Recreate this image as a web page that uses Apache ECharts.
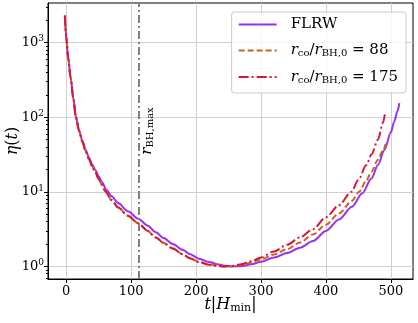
<!DOCTYPE html>
<html><head><meta charset="utf-8">
<script src="https://cdn.jsdelivr.net/npm/echarts@6/dist/echarts.min.js"></script>
<style>html,body{margin:0;padding:0;background:#fff}#c{width:418px;height:323px}</style>
</head><body><div id="c"></div>
<script>
// ---- data ----
const tFLRW   = [-2, 0, 3, 7, 11, 15, 20, 25, 30, 35, 40, 45, 50, 55, 62, 70, 80, 95, 111, 125, 138, 150, 164, 180, 190, 205, 220, 235, 245, 256, 270, 285, 300, 320, 340, 360, 380, 400, 420, 440, 456, 470, 480, 490, 500, 505, 510, 513];
const etaFLRW = [2310, 1202, 631, 331, 178, 100, 66.1, 47.9, 36.3, 28.8, 23.4, 19.5, 16.2, 13.5, 10.7, 8.71, 7.08, 5.50, 4.37, 3.55, 2.88, 2.40, 2.00, 1.66, 1.47, 1.27, 1.15, 1.06, 1.02, 1.00, 1.01, 1.07, 1.16, 1.32, 1.51, 1.78, 2.19, 2.99, 4.27, 6.31, 9.55, 15.1, 22.9, 36.3, 63.1, 87.1, 120, 155];
const t88     = [-2, 0, 3, 7, 11, 15, 20, 25, 30, 35, 40, 45, 50, 55, 60, 70, 80, 95, 111, 125, 138, 150, 164, 180, 190, 205, 220, 235, 245, 260, 280, 300, 320, 340, 360, 380, 400, 420, 440, 451, 462, 470, 480, 488, 492];
const eta88   = [2310, 1202, 631, 331, 178, 100, 65.0, 46.8, 35.1, 27.5, 22.1, 18.2, 14.9, 12.4, 10.2, 7.76, 6.17, 4.79, 3.80, 3.02, 2.45, 2.07, 1.74, 1.45, 1.29, 1.15, 1.07, 1.02, 1.00, 1.02, 1.10, 1.245, 1.45, 1.70, 2.09, 2.69, 3.63, 5.13, 7.59, 10.0, 14.1, 18.6, 26.9, 36.3, 44.1];
const t175    = [-2, 0, 3, 7, 11, 15, 20, 25, 30, 35, 40, 45, 50, 55, 60, 70, 80, 95, 111, 125, 138, 150, 164, 180, 190, 205, 220, 235, 242, 255, 270, 285, 300, 320, 340, 360, 380, 400, 420, 439, 450, 462, 470, 480, 488, 491];
const eta175  = [2310, 1202, 631, 331, 178, 100, 65.0, 46.8, 35.1, 27.5, 22.1, 18.2, 14.9, 12.4, 10.2, 7.76, 6.17, 4.79, 3.80, 3.02, 2.45, 2.07, 1.74, 1.45, 1.29, 1.14, 1.055, 1.012, 1.00, 1.014, 1.07, 1.175, 1.32, 1.585, 1.95, 2.45, 3.16, 4.57, 6.61, 10.0, 14.5, 22.9, 31.6, 50.1, 85.1, 115];
const rBHmax  = 111;
const xTicks  = [0, 100, 200, 300, 400, 500];
const yTicks  = [1, 10, 100, 1000];
const yMinor  = [0.7, 0.8, 0.9, 2, 3, 4, 5, 6, 7, 8, 9, 20, 30, 40, 50, 60, 70, 80, 90, 200, 300, 400, 500, 600, 700, 800, 900, 2000, 3000];
const names   = ['FLRW', 'r_co/r_BH,0 = 88', 'r_co/r_BH,0 = 175'];

const zip = (a, b) => a.map((v, i) => [v, b[i]]);
const FONT = 'DejaVu Serif';
const sup = {b: {fontSize: 13, fontFamily: FONT, color: '#000'}, s: {fontSize: 9, fontFamily: FONT, color: '#000', padding: [0, 0, 7, 0]}};

const chart = echarts.init(document.getElementById('c'), null, {renderer: 'canvas'});
const lineCommon = {type: 'line', showSymbol: false, symbol: 'none', smooth: 0.3, smoothMonotone: 'x', z: 3};
chart.setOption({
  animation: false,
  backgroundColor: '#fff',
  grid: {left: 48, right: 5, top: 3, bottom: 44, show: true, borderColor: '#000', borderWidth: 1,
         backgroundColor: 'transparent', outerBoundsMode: 'none', containLabel: false},
  xAxis: {
    type: 'value', min: -28, max: 534,
    axisLine: {show: true, onZero: false, lineStyle: {color: '#000', width: 1}},
    axisTick: {show: true, length: 4, customValues: xTicks, lineStyle: {color: '#000'}},
    axisLabel: {customValues: xTicks, color: '#000', fontFamily: FONT, fontSize: 13, margin: 6},
    splitLine: {show: true, lineStyle: {color: '#d0d0d0', width: 1}},
    name: '{i|t}|{i|H}{s|min}|', nameLocation: 'middle', nameGap: 17, nameMoveOverlap: false,
    nameTextStyle: {fontFamily: FONT, fontSize: 16, color: '#000',
      rich: {i: {fontStyle: 'italic', fontFamily: FONT, fontSize: 16, color: '#000'},
             s: {fontFamily: FONT, fontSize: 11, color: '#000', padding: [7, 0, 0, 0]}}}
  },
  yAxis: [{
    type: 'log', min: 0.679, max: 3400, logBase: 10,
    axisLine: {show: true, onZero: false, lineStyle: {color: '#000', width: 1}},
    axisTick: {show: true, length: 4, customValues: yTicks, lineStyle: {color: '#000'}},
    axisLabel: {customValues: yTicks, margin: 4, fontFamily: FONT, fontSize: 13, color: '#000',
      formatter: v => { const e = Math.round(Math.log10(v)); return '{b|10}{s|' + e + '}'; }, rich: sup},
    splitLine: {show: true, lineStyle: {color: '#d0d0d0', width: 1}},
    name: '{i|η}({i|t})', nameLocation: 'middle', nameGap: 27, nameMoveOverlap: false,
    nameTextStyle: {fontFamily: FONT, fontSize: 16, color: '#000',
      rich: {i: {fontStyle: 'italic', fontFamily: FONT, fontSize: 16, color: '#000'}}}
  }, {
    type: 'log', min: 0.679, max: 3400, logBase: 10, position: 'left',
    axisLine: {show: false, onZero: false}, splitLine: {show: false},
    axisLabel: {show: false},
    axisTick: {show: true, length: 2, customValues: yMinor, lineStyle: {color: '#000'}}
  }],
  legend: {
    data: names, orient: 'vertical', right: 12, top: 12,
    itemWidth: 38, itemHeight: 16, itemGap: 11,
    padding: [5, 8, 8, 6],
    itemStyle: {opacity: 0},
    backgroundColor: 'rgba(255,255,255,0.8)', borderColor: '#cccccc', borderWidth: 1, borderRadius: 3,
    formatter: n => n === 'FLRW' ? '{p|}' + n : '{p|}{i|r}{s|co}/{i|r}{s|BH,0} = ' + n.split('= ')[1],
    textStyle: {fontFamily: FONT, fontSize: 15, color: '#000',
      rich: {p: {width: 9},
             i: {fontStyle: 'italic', fontFamily: FONT, fontSize: 15, color: '#000'},
             s: {fontFamily: FONT, fontSize: 10, color: '#000', padding: [6, 0, 0, 0]}}}
  },
  series: [
    Object.assign({}, lineCommon, {name: names[0], data: zip(tFLRW, etaFLRW), color: '#9b30f0', lineStyle: {color: '#9b30f0', width: 2}}),
    Object.assign({}, lineCommon, {name: names[1], data: zip(t88, eta88), color: '#c8641e', lineStyle: {color: '#c8641e', width: 2, type: [6, 3]}}),
    Object.assign({}, lineCommon, {name: names[2], data: zip(t175, eta175), color: '#dc143c', lineStyle: {color: '#dc143c', width: 2, type: [10, 3, 2, 3]}}),
    {type: 'line', name: 'rBHmax', data: [], z: 2,
     markLine: {silent: true, symbol: 'none', animation: false,
       lineStyle: {color: '#808080', width: 2, type: [8, 3, 2, 3]},
       label: {show: true, position: 'insideMiddleBottom', formatter: '{r|r}{s|BH,max}', distance: 1, padding: [0, 0, 0, 20],
         rich: {r: {fontStyle: 'italic', fontFamily: FONT, fontSize: 15, color: '#000'},
                s: {fontFamily: FONT, fontSize: 10, color: '#000', padding: [6, 0, 0, 0]}}},
       data: [{xAxis: rBHmax}]}}
  ]
});
</script></body></html>
